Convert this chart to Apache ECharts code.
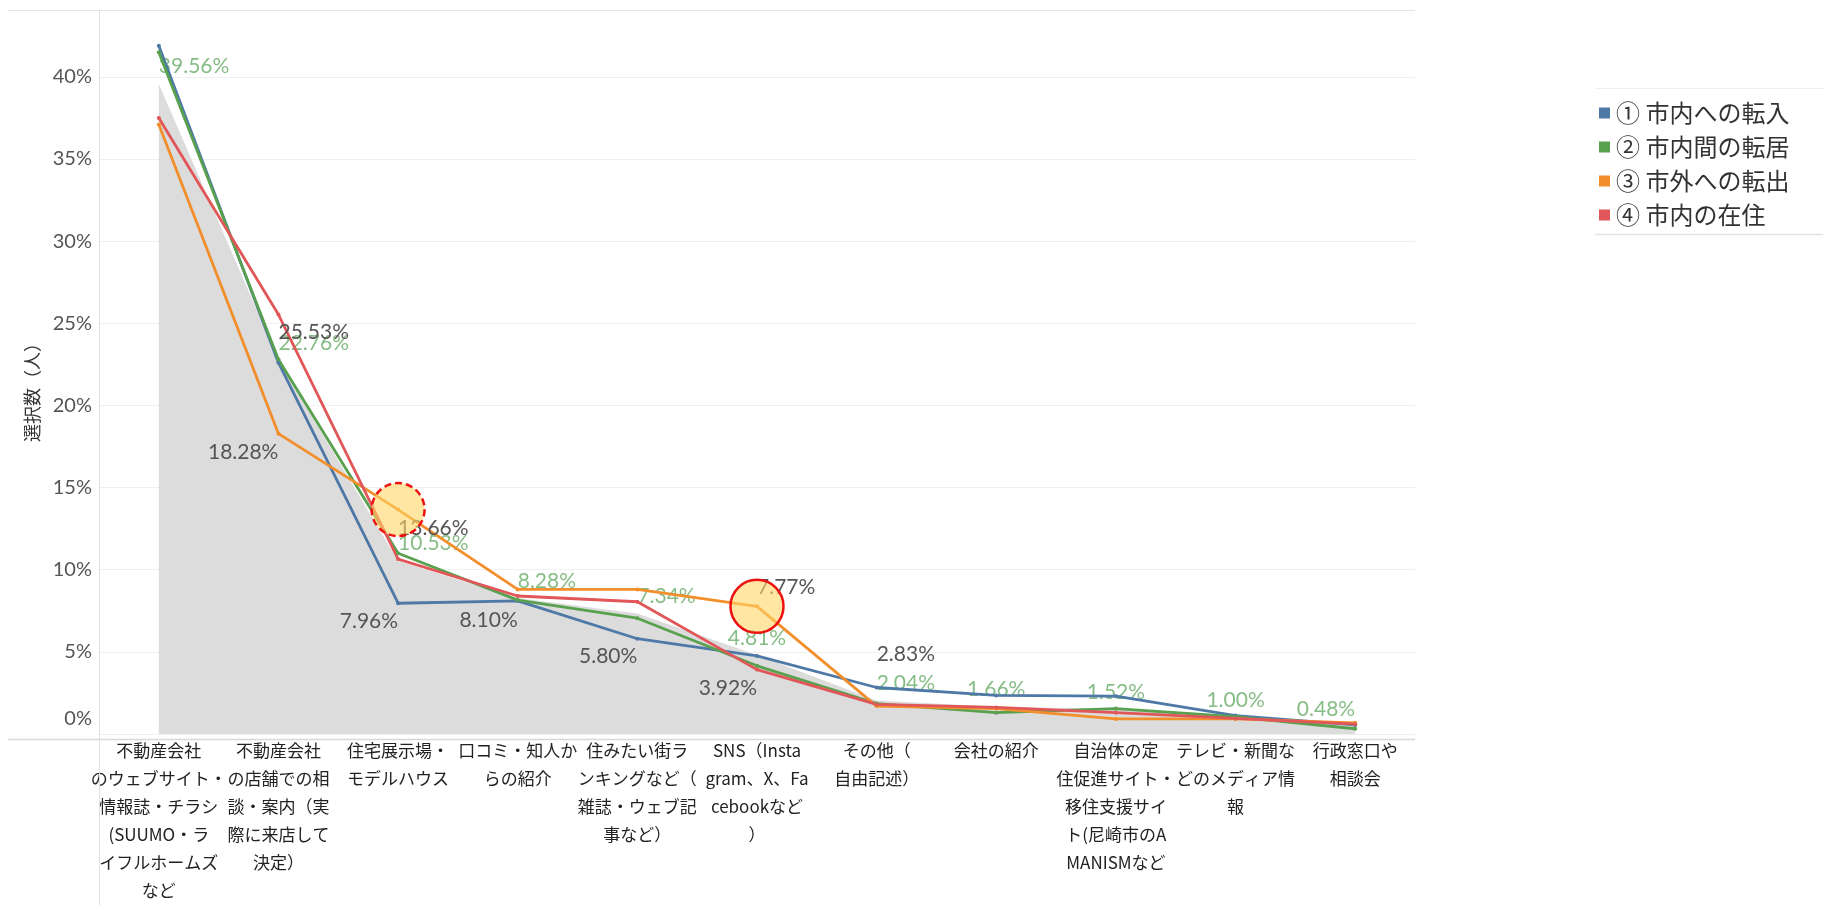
<!DOCTYPE html>
<html>
<head>
<meta charset="utf-8">
<script src="https://cdn.jsdelivr.net/npm/echarts@6/dist/echarts.min.js"></script>
<style>
  html, body { margin: 0; padding: 0; background: #ffffff; }
  #chart { width: 1823px; height: 905px; }
</style>
</head>
<body>
<div id="chart"></div>
<script>
// 情報源カテゴリ（軸ラベルは改行位置込み）
const categories = [
  '不動産会社\nのウェブサイト・\n情報誌・チラシ\n(SUUMO・ラ\nイフルホームズ\nなど',
  '不動産会社\nの店舗での相\n談・案内（実\n際に来店して\n決定）',
  '住宅展示場・\nモデルハウス',
  '口コミ・知人か\nらの紹介',
  '住みたい街ラ\nンキングなど（\n雑誌・ウェブ記\n事など）',
  'SNS（Insta\ngram、X、Fa\ncebookなど\n）',
  'その他（\n自由記述）',
  '会社の紹介',
  '自治体の定\n住促進サイト・\n移住支援サイ\nト(尼崎市のA\nMANISMなど',
  'テレビ・新聞な\nどのメディア情\n報',
  '行政窓口や\n相談会'
];

const seriesNames = ['① 市内への転入', '② 市内間の転居', '③ 市外への転出', '④ 市内の在住'];
const yAxisTitle = '選択数（人）';

// 選択率（%）
const moveIn     = [41.90, 22.60, 7.96, 8.10, 5.80, 4.75, 2.83, 2.35, 2.30, 1.12, 0.55];
const moveWithin = [41.50, 22.80, 11.00, 8.15, 7.05, 4.15, 1.85, 1.30, 1.55, 1.05, 0.32];
const moveOut    = [37.10, 18.28, 13.66, 8.80, 8.80, 7.77, 1.70, 1.55, 0.92, 0.92, 0.68];
const resident   = [37.50, 25.53, 10.65, 8.40, 8.05, 3.92, 1.80, 1.62, 1.30, 0.95, 0.60];
const overall    = [39.56, 22.76, 10.53, 8.28, 7.34, 4.81, 2.04, 1.66, 1.52, 1.00, 0.48];

const yTicks = { min: 0, interval: 5 };

const colors = ['#4e79a7', '#59a14f', '#f28e2b', '#e15759'];
const areaColor = '#dcdcdc';
const greenLabel = '#86bd86';
const darkLabel = '#555555';

// ラベル配置: [水平揃え, 縦方向オフセット]
const overallLabelPlace = [
  ['left', -18], ['left', -17], ['left', -18], ['left', -17], ['left', -17],
  ['center', -17], ['left', -17], ['center', -17], ['center', -17], ['center', -17], ['right', -17]
];
const moveInLabelPlace   = { 2: ['right', 18], 3: ['right', 19], 4: ['right', 18], 6: ['left', -33] };
const moveOutLabelPlace  = { 1: ['right', 19], 2: ['left', 19], 5: ['left', -19] };
const residentLabelPlace = { 1: ['left', 18], 5: ['right', 19] };

const numFont = "Lato, 'Noto Sans CJK JP', sans-serif";
const jpFont = "'Noto Sans CJK JP', sans-serif";

function buildData(values, place, color) {
  return values.map(function (v, i) {
    const p = place[i];
    if (!p) return { value: v, label: { show: false } };
    return {
      value: v,
      label: {
        show: true,
        position: 'inside',
        align: p[0],
        verticalAlign: 'middle',
        offset: [0, p[1]],
        color: color,
        fontSize: 21,
        fontFamily: numFont,
        textBorderWidth: 0,
        formatter: function (prm) { return prm.value.toFixed(2) + '%'; }
      }
    };
  });
}

function lineSeries(name, values, color, place) {
  return {
    name: name,
    type: 'line',
    data: buildData(values, place, darkLabel),
    symbol: 'circle',
    symbolSize: 4,
    showSymbol: true,
    itemStyle: { color: color },
    lineStyle: { color: color, width: 2.8 },
    emphasis: { disabled: true },
    z: 3
  };
}

const orange = lineSeries(seriesNames[2], moveOut, colors[2], moveOutLabelPlace);
orange.markPoint = {
  symbol: 'circle',
  symbolSize: 53,
  label: { show: false },
  silent: true,
  data: [
    { coord: [2, moveOut[2]], itemStyle: { color: 'rgba(255, 214, 102, 0.6)', borderColor: '#ee1111', borderWidth: 2.5, borderType: [7, 4] } },
    { coord: [5, moveOut[5]], itemStyle: { color: 'rgba(255, 214, 102, 0.6)', borderColor: '#ee1111', borderWidth: 2.5 } }
  ]
};

const chart = echarts.init(document.getElementById('chart'), null, { renderer: 'canvas' });

const option = {
  animation: false,
  backgroundColor: '#ffffff',
  color: colors,
  grid: { left: 99, right: 408, top: 10, bottom: 166, containLabel: false },
  legend: {
    orient: 'vertical',
    left: 1594,
    top: 96,
    itemWidth: 11,
    itemHeight: 11,
    itemGap: 10,
    icon: 'rect',
    data: seriesNames,
    textStyle: { fontSize: 24, lineHeight: 23, color: '#333333', fontFamily: jpFont, padding: [0, 0, 0, 1] }
  },
  xAxis: {
    type: 'category',
    data: categories,
    boundaryGap: true,
    axisLine: { show: false },
    axisTick: { show: false },
    axisLabel: {
      interval: 0,
      margin: 3,
      fontSize: 17,
      lineHeight: 28,
      color: '#222222',
      fontFamily: jpFont,
      align: 'center',
      verticalAlign: 'top'
    },
    splitLine: { show: false }
  },
  yAxis: {
    type: 'value',
    min: yTicks.min,
    max: 44.07,
    interval: yTicks.interval,
    axisLine: { show: false },
    axisTick: { show: false },
    axisLabel: {
      margin: 7,
      fontSize: 20,
      color: '#555555',
      fontFamily: numFont,
      showMaxLabel: false,
      formatter: function (v) { return v === 0 ? '{z|0%}' : v + '%'; },
      rich: { z: { fontSize: 20, color: '#555555', fontFamily: numFont, padding: [0, 0, 30, 0] } }
    },
    splitLine: { show: true, lineStyle: { color: '#f0f0f0', width: 1 } }
  },
  graphic: [
    { type: 'line', shape: { x1: 8, y1: 10.5, x2: 1415, y2: 10.5 }, style: { stroke: '#e4e4e4', lineWidth: 1 }, z: 10 },
    { type: 'line', shape: { x1: 8, y1: 739.5, x2: 1415, y2: 739.5 }, style: { stroke: '#d8d8d8', lineWidth: 1.5 }, z: 10 },
    { type: 'line', shape: { x1: 99.5, y1: 10, x2: 99.5, y2: 905 }, style: { stroke: '#e0e0e0', lineWidth: 1 }, z: 10 },
    { type: 'line', shape: { x1: 1595, y1: 88.5, x2: 1823, y2: 88.5 }, style: { stroke: '#efefef', lineWidth: 1 }, z: 10 },
    { type: 'line', shape: { x1: 1595, y1: 234.5, x2: 1823, y2: 234.5 }, style: { stroke: '#e2e2e2', lineWidth: 1.5 }, z: 10 },
    {
      type: 'text',
      x: 32,
      y: 388,
      rotation: Math.PI / 2,
      style: { text: yAxisTitle, fontSize: 18, fill: '#333333', fontFamily: jpFont, align: 'center', verticalAlign: 'middle' },
      z: 10
    }
  ],
  series: [
    {
      name: '全体',
      type: 'line',
      data: buildData(overall, overallLabelPlace, greenLabel),
      symbol: 'circle',
      symbolSize: 1,
      showSymbol: true,
      itemStyle: { color: 'rgba(0,0,0,0)' },
      lineStyle: { width: 0, color: areaColor },
      areaStyle: { color: areaColor, opacity: 1 },
      emphasis: { disabled: true },
      z: 1
    },
    lineSeries(seriesNames[0], moveIn, colors[0], moveInLabelPlace),
    lineSeries(seriesNames[1], moveWithin, colors[1], {}),
    orange,
    lineSeries(seriesNames[3], resident, colors[3], residentLabelPlace)
  ]
};

chart.setOption(option);
</script>
</body>
</html>
